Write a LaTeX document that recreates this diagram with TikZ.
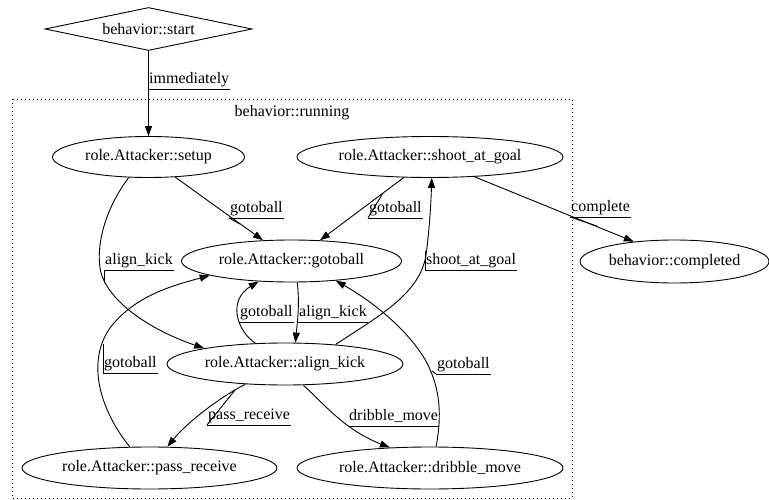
\documentclass[tikz,border=0pt]{standalone}
\usepackage{fontspec}
\setmainfont{Liberation Serif}
\usetikzlibrary{shapes.geometric, arrows.meta}

\tikzset{
  state/.style={draw, ellipse, inner sep=0pt, line width=0.9pt},
  trans/.style={-{Triangle[length=10pt,width=7pt]}, line width=0.9pt},
  lbl/.style={anchor=south west, inner xsep=1pt, inner ysep=0pt, text height=12pt, text depth=5pt},
  uline/.style={line width=0.9pt}
}

\begin{document}
\begin{tikzpicture}[x=1pt, y=-1pt, font=\fontsize{16}{19}\selectfont]
\useasboundingbox (0,0) rectangle (769,500);

% cluster

\draw[line width=0.9pt, dash pattern=on 1pt off 3pt] (12,99) rectangle (572,498);
\node (running) at (292,113) {behavior::running};

% states

\node[draw, diamond, inner sep=0pt, minimum width=207pt, minimum height=43pt, line width=0.9pt] (start) at (148.5,29) {\makebox[0pt]{behavior::start}};
\node[state, minimum width=192pt, minimum height=41pt] (setup) at (148.5,157) {\makebox[0pt]{role.Attacker::setup}};
\node[state, minimum width=266pt, minimum height=41pt] (shoot) at (430,157) {\makebox[0pt]{role.Attacker::shoot\_at\_goal}};
\node[state, minimum width=220pt, minimum height=42pt] (gotoball) at (291.5,261) {\makebox[0pt]{role.Attacker::gotoball}};
\node[state, minimum width=236pt, minimum height=42pt] (align) at (285,364) {\makebox[0pt]{role.Attacker::align\_kick}};
\node[state, minimum width=255pt, minimum height=42pt] (pass) at (149.5,468) {\makebox[0pt]{role.Attacker::pass\_receive}};
\node[state, minimum width=266pt, minimum height=42pt] (dribble) at (430,468) {\makebox[0pt]{role.Attacker::dribble\_move}};
\node[state, minimum width=189pt, minimum height=43pt] (completed) at (674.5,261.5) {\makebox[0pt]{behavior::completed}};

% transitions

\draw[trans] (start.south) -- (setup.north);
\draw[trans] (setup.-37) -- (gotoball.144);
\draw[trans] (shoot.218) -- (gotoball.36);
\draw[trans] (setup.226) .. controls (108,205) and (96,240) .. (100,268) .. controls (105,300) and (150,330) .. (align.169);
\draw[trans] (gotoball.-75) .. controls (300,305) and (297,325) .. (align.64);
\draw[trans] (align.145) .. controls (236,330) and (228,300) .. (gotoball.212);
\draw[trans] (pass.133) .. controls (100,410) and (86,362) .. (110,328) .. controls (135,295) and (175,285) .. (gotoball.190);
\draw[trans] (align.207) .. controls (215,400) and (185,425) .. (pass.50);
\draw[trans] (align.-49) .. controls (325,405) and (345,430) .. (dribble.153);
\draw[trans] (dribble.74) .. controls (442,415) and (440,390) .. (428,365) .. controls (410,330) and (370,300) .. (gotoball.-24);
\draw[trans] (align.21) .. controls (375,318) and (420,295) .. (426,255) .. controls (430,225) and (431,200) .. (shoot.-85);
\draw[trans] (shoot.-24) -- (completed.154);

% labels

\node[lbl] (l_imm) at (148,89) {immediately};
\node[lbl] (l_gb1) at (229,218) {gotoball};
\node[lbl] (l_gb2) at (368,218) {gotoball};
\node[lbl] (l_ak1) at (104,270) {align\_kick};
\node[lbl] (l_sag) at (425,270) {shoot\_at\_goal};
\node[lbl] (l_cmp) at (570,217) {complete};
\node[lbl] (l_gb3) at (239,322) {gotoball};
\node[lbl] (l_ak2) at (298,322) {align\_kick};
\node[lbl] (l_gb4) at (103,373) {gotoball};
\node[lbl] (l_gb5) at (436,374) {gotoball};
\node[lbl] (l_pr) at (207,425) {pass\_receive};
\node[lbl] (l_dm) at (348,426) {dribble\_move};

\foreach \l in {l_imm, l_gb1, l_gb2, l_ak1, l_sag, l_cmp, l_gb3, l_ak2, l_gb4, l_gb5, l_pr, l_dm}
  \draw[uline] (\l.south west) -- (\l.south east);

% label ticks back to their edges

\coordinate (gb1) at (240,224);
\coordinate (gb2) at (383,193);
\coordinate (ak1) at (104,283);
\coordinate (sag) at (425,251);
\coordinate (cmp) at (597,226);
\coordinate (gb4) at (103,344);
\coordinate (gb5) at (432,371);
\coordinate (pr) at (235,390);
\draw[uline] (gb1) -- (l_gb1.south west);
\draw[uline] (gb2) -- (l_gb2.south west);
\draw[uline] (ak1) -- (l_ak1.south west);
\draw[uline] (sag) -- (l_sag.south west);
\draw[uline] (cmp) -- (l_cmp.south west);
\draw[uline] (gb4) -- (l_gb4.south west);
\draw[uline] (gb5) -- (l_gb5.south west);
\draw[uline] (pr) -- (l_pr.south west);

\end{tikzpicture}
\end{document}
